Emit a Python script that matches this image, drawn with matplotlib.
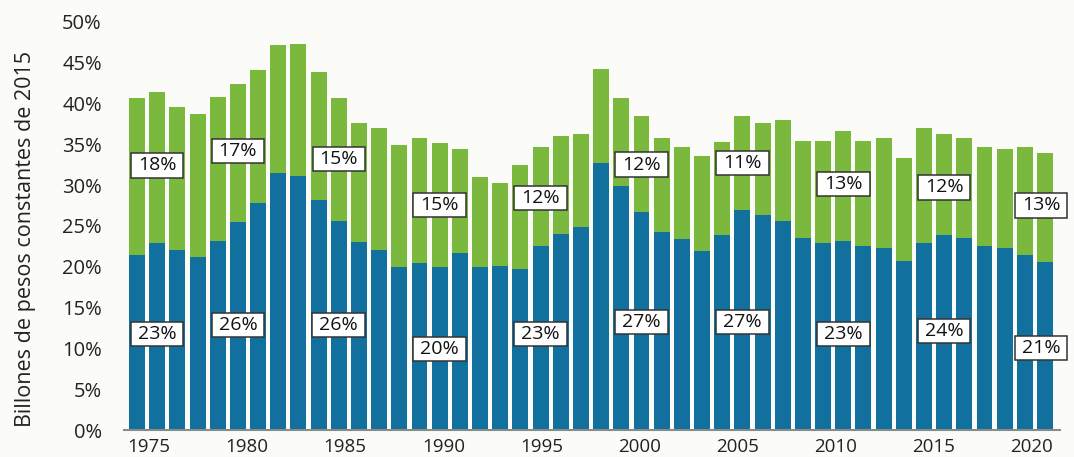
import matplotlib
matplotlib.use("Agg")
import matplotlib.pyplot as plt
from matplotlib.path import Path
from matplotlib.ticker import FuncFormatter

years = list(range(1975, 2021))
blue_vals = [21.4, 22.9, 22.1, 21.2, 23.2, 25.5, 27.8, 31.5, 31.1, 28.2,
             25.6, 23.0, 22.1, 19.9, 20.5, 19.9, 21.7, 19.9, 20.1, 19.7,
             22.5, 24.0, 24.9, 32.7, 29.9, 26.7, 24.3, 23.4, 21.9, 23.9,
             27.0, 26.3, 25.6, 23.5, 22.9, 23.2, 22.5, 22.3, 20.7, 22.9,
             23.9, 23.5, 22.5, 22.3, 21.4, 20.6]
green_vals = [19.3, 18.5, 17.4, 17.5, 17.6, 16.9, 16.3, 15.7, 16.2, 15.7,
              15.0, 14.6, 14.9, 15.0, 15.2, 15.3, 12.7, 11.1, 10.2, 12.8,
              12.2, 12.0, 11.4, 11.5, 10.8, 11.7, 11.5, 11.3, 11.7, 11.4,
              11.5, 11.3, 12.4, 11.9, 12.5, 13.4, 12.9, 13.4, 12.6, 14.1,
              12.3, 12.2, 12.2, 12.1, 13.2, 13.3]

label_years = [1976, 1980, 1985, 1990, 1995, 2000, 2005, 2010, 2015, 2019.8]
top_labels = ["18%", "17%", "15%", "15%", "12%", "12%", "11%", "13%", "12%", "13%"]
bottom_labels = ["23%", "26%", "26%", "20%", "23%", "27%", "27%", "23%", "24%", "21%"]
top_label_y = [32.4, 34.2, 33.2, 27.6, 28.4, 32.5, 32.7, 30.1, 29.7, 27.5]
bottom_label_y = [11.8, 12.9, 12.9, 9.9, 11.8, 13.2, 13.2, 11.8, 12.1, 10.0]

xtick_years = [1975, 1980, 1985, 1990, 1995, 2000, 2005, 2010, 2015, 2020]
ytick_vals = [0, 5, 10, 15, 20, 25, 30, 35, 40, 45, 50]

BLUE = "#11709D"
GREEN = "#7AB83E"
BG = "#FBFCF7"
TXT = "#222222"

plt.rcParams['font.family'] = ['Open Sans', 'DejaVu Sans']

fig = plt.figure(figsize=(10.74, 4.57), dpi=100, facecolor=BG)
ax = fig.add_axes([124/1074, 27/457, 936/1074, 408.3/457])
ax.set_facecolor(BG)

ax.bar(years, blue_vals, width=0.79, color=BLUE, linewidth=0, zorder=2)
ax.bar(years, green_vals, bottom=blue_vals, width=0.79, color=GREEN, linewidth=0, zorder=2)

ax.set_xlim(1974.356, 2020.74)
ax.set_ylim(0, 50)

# tick label positions (slightly drifting as in reference)
ax.set_xticks([y + 0.6 - 0.0278 * (y - 1975) for y in xtick_years])
ax.set_xticklabels([str(y) for y in xtick_years])
ax.set_yticks(ytick_vals)
ax.yaxis.set_major_formatter(FuncFormatter(lambda v, p: f"{int(v)}%"))

ax.tick_params(axis='x', length=0, pad=6, labelsize=13.5, labelcolor=TXT)
ax.tick_params(axis='y', length=0, pad=16, labelsize=14.5, labelcolor=TXT)

for s in ['top', 'right', 'left']:
    ax.spines[s].set_visible(False)
ax.spines['bottom'].set_color('#8a8a8a')
ax.spines['bottom'].set_linewidth(1.5)
ax.spines['bottom'].set_zorder(3)

ax.set_ylabel("Billones de pesos constantes de 2015", fontsize=15.5, color=TXT)
ax.yaxis.set_label_coords(-0.094, 0.468)


def label_box(x0, y0, width, height, mutation_size):
    px = 0.36 * mutation_size
    py = 0.16 * mutation_size
    x0 -= px
    y0 -= py
    x1 = x0 + width + 2 * px
    y1 = y0 + height + 2 * py
    return Path([(x0, y0), (x1, y0), (x1, y1), (x0, y1), (x0, y0)],
                [Path.MOVETO, Path.LINETO, Path.LINETO, Path.LINETO, Path.CLOSEPOLY])


for lx, t, ty in zip(label_years, top_labels, top_label_y):
    ax.text(lx, ty, t, ha='center', va='center', fontsize=14, color='#111111', zorder=5,
            bbox=dict(boxstyle=label_box, facecolor='white', edgecolor='#333333', linewidth=1.1))
for lx, t, ty in zip(label_years, bottom_labels, bottom_label_y):
    ax.text(lx, ty, t, ha='center', va='center', fontsize=14, color='#111111', zorder=5,
            bbox=dict(boxstyle=label_box, facecolor='white', edgecolor='#333333', linewidth=1.1))

fig.savefig("out.png", dpi=100, facecolor=BG)
